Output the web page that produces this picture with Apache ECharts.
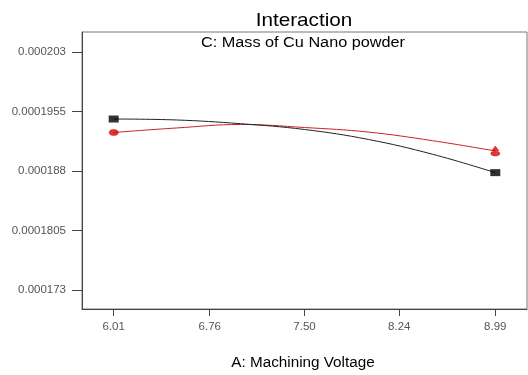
<!DOCTYPE html>
<html>
<head>
<meta charset="utf-8">
<script src="https://cdn.jsdelivr.net/npm/echarts@6/dist/echarts.min.js"></script>
<style>
html,body{margin:0;padding:0;background:#fff;}
#c{width:528px;height:375px;}
</style>
</head>
<body>
<div id="c"></div>
<script>
// Data
const xValues = [6.01, 6.5, 7.0, 7.5, 8.0, 8.5, 8.99];
const blackSeries = [0.00019455, 0.00019443, 0.00019396, 0.00019323, 0.00019197, 0.00019011, 0.00018779];
const redSeries = [0.00019285, 0.00019342, 0.00019386, 0.00019348, 0.00019290, 0.00019182, 0.00019052];
const xTicks = [6.01, 6.76, 7.50, 8.24, 8.99];
const xTickLabels = ['6.01', '6.76', '7.50', '8.24', '8.99'];
const yTicks = [0.000173, 0.0001805, 0.000188, 0.0001955, 0.000203];
const yTickLabels = ['0.000173', '0.0001805', '0.000188', '0.0001955', '0.000203'];
const blackEnds = [[6.01, 0.00019455], [8.99, 0.00018779]];
const redEnds = [[6.01, 0.00019285], [8.99, 0.00019052]];
const titleText = 'Interaction';
const subtitleText = 'C: Mass of Cu Nano powder';
const xAxisName = 'A: Machining Voltage';

const font = 'Arial, "Liberation Sans", sans-serif';
const chart = echarts.init(document.getElementById('c'), null, {renderer: 'canvas'});

function pairs(xs, ys) { return xs.map((x, i) => [x, ys[i]]); }
function labelFor(ticks, labels, v) {
  for (let i = 0; i < ticks.length; i++) if (Math.abs(ticks[i] - v) < 1e-9) return labels[i];
  return '';
}
function txt(text, x, y, size, sx) {
  return {type: 'text', x: x, y: y, scaleX: sx, z: 10,
    style: {text: text, fill: '#000', font: size + 'px ' + font, textAlign: 'center', textVerticalAlign: 'middle'}};
}

const pawn = 'path://M5,0 L9,5 L1,5 Z M0,8 A5,2.5 0 1 0 10,8 A5,2.5 0 1 0 0,8 Z';

chart.setOption({
  animation: false,
  backgroundColor: '#fff',
  graphic: [
    txt(titleText, 304, 20.5, 19, 1.09),
    txt(subtitleText, 303, 43, 14, 1.16),
    txt(xAxisName, 303, 363.5, 14, 1.09)
  ],
  grid: {left: 82, top: 32, right: 1, bottom: 66, show: true, borderColor: '#777', borderWidth: 1},
  xAxis: {
    type: 'value', min: 5.7625, max: 9.2375,
    axisLine: {show: true, lineStyle: {color: '#444', width: 1}},
    axisTick: {show: true, length: 7, customValues: xTicks, lineStyle: {color: '#444'}},
    axisLabel: {customValues: xTicks, margin: 12, color: '#555', fontFamily: font, fontSize: 11.5,
      formatter: v => labelFor(xTicks, xTickLabels, v)},
    splitLine: {show: false}
  },
  yAxis: {
    type: 'value', min: 0.0001706, max: 0.00020552,
    axisLine: {show: true, lineStyle: {color: '#444', width: 1}},
    axisTick: {show: true, length: 10, customValues: yTicks, lineStyle: {color: '#444'}},
    axisLabel: {customValues: yTicks, margin: 16, color: '#555', fontFamily: font, fontSize: 11.5,
      formatter: v => labelFor(yTicks, yTickLabels, v)},
    splitLine: {show: false}
  },
  series: [
    {type: 'line', data: pairs(xValues, redSeries), smooth: 0.4, symbol: 'none',
     lineStyle: {color: '#cc2222', width: 1}, z: 2},
    {type: 'line', data: pairs(xValues, blackSeries), smooth: 0.4, symbol: 'none',
     lineStyle: {color: '#222', width: 1}, z: 3},
    {type: 'scatter', z: 4,
     data: [{value: redEnds[0], symbol: 'circle', symbolSize: [9, 6]},
            {value: redEnds[1], symbol: pawn, symbolSize: [9, 10]}],
     itemStyle: {color: '#e00000', borderColor: '#900', borderWidth: 0.5}},
    {type: 'scatter', data: blackEnds, symbol: 'rect', symbolSize: [10, 7],
     itemStyle: {color: '#000'}, z: 5}
  ]
});
</script>
</body>
</html>
